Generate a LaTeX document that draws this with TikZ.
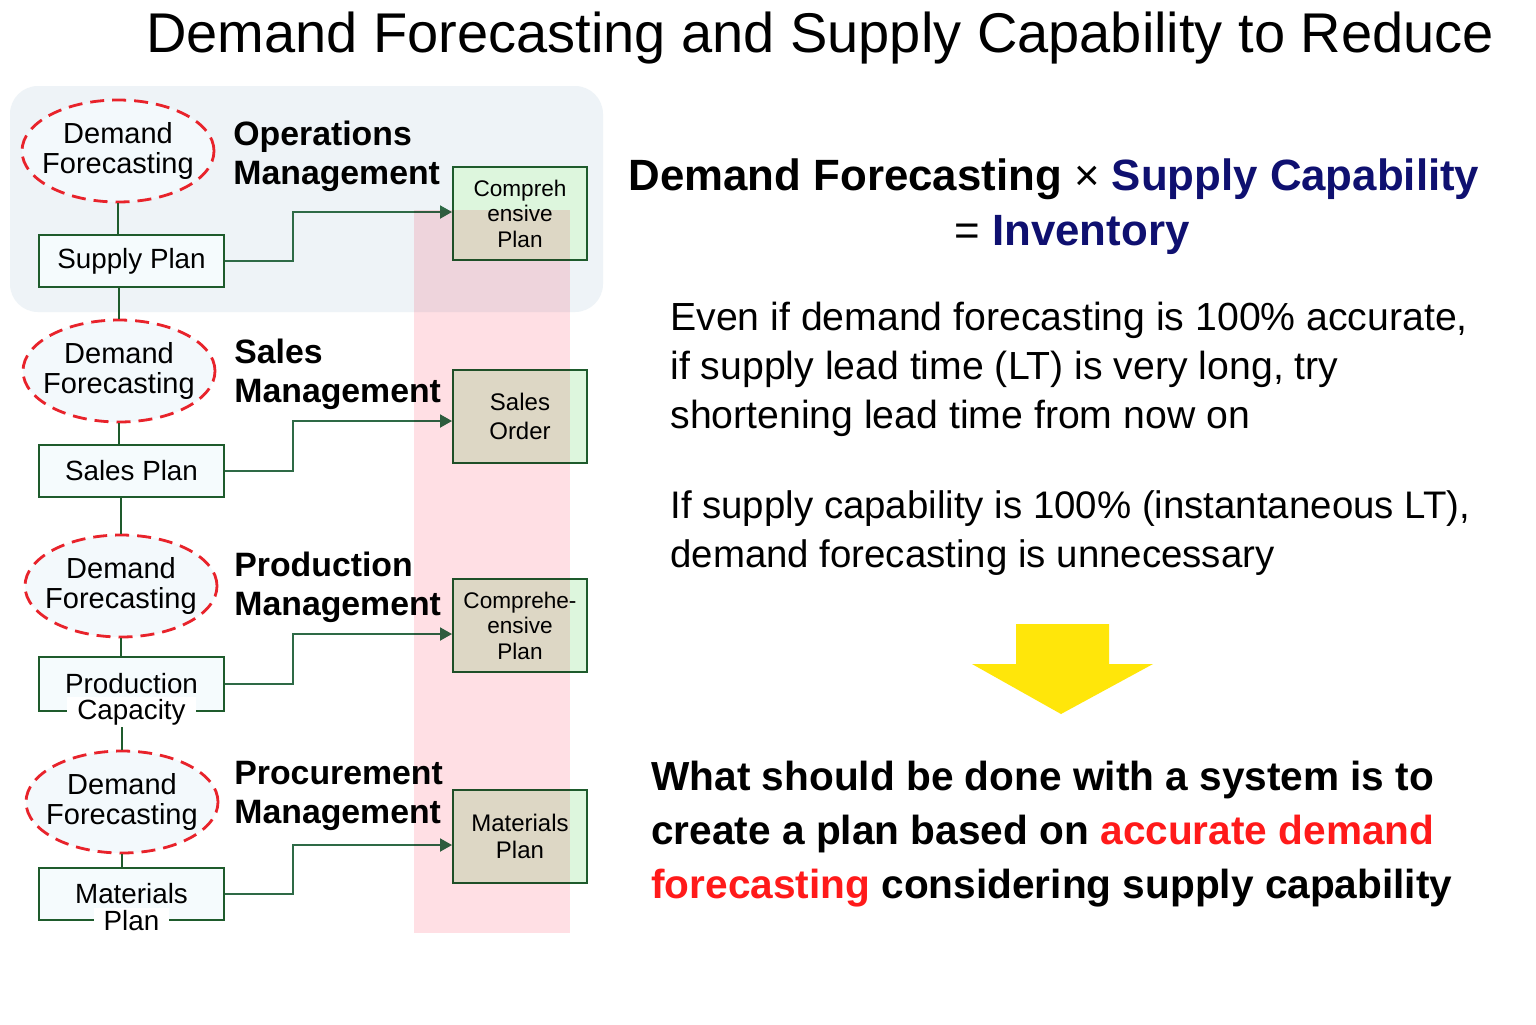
\documentclass[tikz,border=0pt]{standalone}
\usepackage{fontspec}
\setmainfont{Liberation Sans}
\usetikzlibrary{shapes.geometric,arrows.meta}
\definecolor{dkgreen}{HTML}{1E5B2C}
\definecolor{conncol}{HTML}{2E6A46}
\definecolor{outfill}{HTML}{DDF6DD}
\definecolor{bandpink}{HTML}{FFDFE4}
\definecolor{bluebox}{HTML}{EEF3F7}
\definecolor{ellfill}{HTML}{F3F9FC}
\definecolor{boxfill}{HTML}{F5FBFD}
\definecolor{dashred}{HTML}{E8232B}
\definecolor{navy}{HTML}{0F1070}
\definecolor{accred}{HTML}{FF1A1A}
\definecolor{arrowyellow}{HTML}{FFE60A}
\begin{document}
\begin{tikzpicture}[x=0.5pt,y=-0.5pt,
  fc/.style={ellipse, draw=dashred, line width=1.4pt, dash pattern=on 7pt off 4pt,
    fill=ellfill, minimum width=96pt, minimum height=51pt, inner sep=0pt},
  fctext/.style={font=\fontsize{14.5}{14.75}\selectfont, align=center, inner sep=0pt},
  planbox/.style={rectangle, draw=dkgreen, line width=1pt, fill=boxfill,
    minimum width=92.5pt, minimum height=26pt, inner sep=0pt, align=center,
    font=\fontsize{13.9}{15}\selectfont},
  edgelabel/.style={anchor=center, fill=white, inner xsep=5pt, inner ysep=1pt,
    font=\fontsize{13.9}{15}\selectfont},
  outbox/.style={rectangle, draw=dkgreen, line width=1pt, fill=outfill,
    minimum width=67pt, minimum height=46.5pt, inner sep=0pt, align=center},
  smalltxt/.style={font=\fontsize{11.3}{12.75}\selectfont},
  mgmt/.style={anchor=west, align=left, inner sep=0pt,
    font=\bfseries\fontsize{16.9}{19.5}\selectfont},
  conn/.style={draw=conncol, line width=1pt, -{Triangle[length=6pt,width=6.5pt]}},
  vline/.style={draw=dkgreen, line width=1pt},
  para/.style={anchor=west, align=left, inner sep=0pt,
    font=\fontsize{19.6}{24.5}\selectfont},
  concl/.style={anchor=west, align=left, inner sep=0pt,
    font=\bfseries\fontsize{20.3}{27}\selectfont}
]
\useasboundingbox (0,0) rectangle (1536,1024);
\fill[white] (0,0) rectangle (1536,1024);

% title
\node[anchor=base, inner sep=0pt, font=\fontsize{28}{32}\selectfont] (title) at (820,52)
  {Demand Forecasting and Supply Capability to Reduce};

% blue operations panel
\fill[bluebox, rounded corners=14pt] (10,86) rectangle (603,312);

% row 1
\node[fc, label={[fctext]center:Demand\\Forecasting}] (e1) at (118,151) {};
\node[planbox] (b1) at (131.5,261) {Supply Plan};
\node[mgmt] (m1) at (233,156) {Operations\\Management};
\node[outbox, smalltxt] (r1) at (520,213.5) {Compreh\\ensive\\Plan};

% row 2
\node[fc, label={[fctext]center:Demand\\Forecasting}] (e2) at (119,371) {};
\node[planbox] (b2) at (131.5,471) {Sales Plan};
\node[mgmt] (m2) at (234,374) {Sales\\Management};
\node[outbox, font=\fontsize{12}{14.5}\selectfont] (r2) at (520,416) {Sales\\Order};

% row 3
\node[fc, label={[fctext]center:Demand\\Forecasting}] (e3) at (121,586) {};
\node[planbox, minimum height=27pt, label={[edgelabel, name=b3cap]south:Capacity}] (b3) at (131.5,684) {Production};
\node[mgmt] (m3) at (234,587) {Production\\Management};
\node[outbox, smalltxt] (r3) at (520,625.5) {Comprehe-\\ensive\\Plan};

% row 4
\node[fc, label={[fctext]center:Demand\\Forecasting}] (e4) at (122,802) {};
\node[planbox, label={[edgelabel, name=b4cap]south:Plan}] (b4) at (131.5,893.5) {Materials};
\node[mgmt] (m4) at (234,796) {Procurement\\Management};
\node[outbox, font=\fontsize{12}{13.5}\selectfont] (r4) at (520,836) {Materials\\Plan};

% vertical links
\draw[vline] (e1.south) -- (e1.south |- b1.north);
\draw[vline] (e2.north |- b1.south) -- (e2.north);
\draw[vline] (e2.south) -- (e2.south |- b2.north);
\draw[vline] (e3.north |- b2.south) -- (e3.north);
\draw[vline] (e3.south) -- (e3.south |- b3.north);
\draw[vline] (e4.north |- b3cap.south) -- (e4.north);
\draw[vline] (e4.south) -- (e4.south |- b4.north);

% connectors
\draw[conn] (b1.east) -- ++(68,0) |- ([yshift=0.75pt]r1.west);
\draw[conn] (b2.east) -- ++(68,0) |- ([yshift=-2.5pt]r2.west);
\draw[conn] (b3.east) -- ++(68,0) |- ([yshift=-4.25pt]r3.west);
\draw[conn] (b4.east) -- ++(68,0) |- ([yshift=-4.5pt]r4.west);

% pink band
\fill[bandpink, blend mode=multiply] (414,210) rectangle (570,933);

% right side
\node[anchor=base, inner sep=0pt, font=\bfseries\fontsize{21.9}{26}\selectfont] (f1) at (1054,190)
  {Demand Forecasting {\mdseries ×} {\color{navy}Supply Capability}};
\node[anchor=base, inner sep=0pt, font=\fontsize{21.9}{26}\selectfont] (f2) at (1072,245)
  {= {\bfseries\color{navy}Inventory}};

\node[para] (p1) at (670,369) {Even if demand forecasting is 100\% accurate,\\if supply lead time (LT) is very long, try\\shortening lead time from now on};
\node[para, font=\fontsize{19.2}{24.5}\selectfont] (p2) at (670,533) {If supply capability is 100\% (instantaneous LT),\\demand forecasting is unnecessary};

\fill[arrowyellow] (1016,624) -- (1109,624) -- (1109,664) -- (1153,664) -- (1061,714) -- (972,664) -- (1016,664) -- cycle;

\node[concl] (c1) at (651,834) {What should be done with a system is to\\create a plan based on \textcolor{accred}{accurate demand}\\\textcolor{accred}{forecasting} considering supply capability};
\end{tikzpicture}
\end{document}
